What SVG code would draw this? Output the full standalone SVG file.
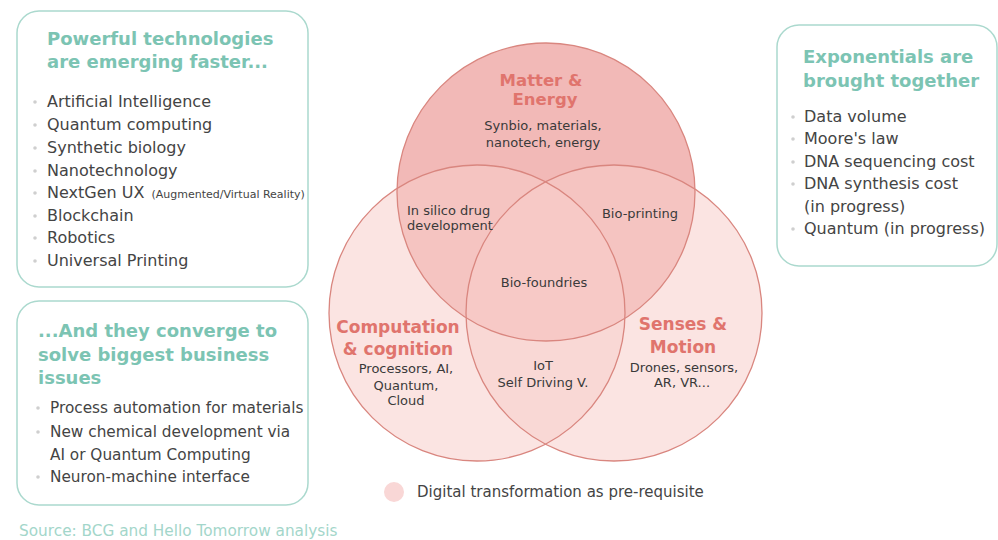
<svg xmlns="http://www.w3.org/2000/svg" width="998" height="540" viewBox="0 0 998 540">
<style>
.box{fill:#ffffff;stroke:#abd9ce;stroke-width:1.5}
.ttl{font-family:"DejaVu Sans",sans-serif;font-weight:bold;font-size:18px;fill:#7cc4b3}
.itm{font-family:"DejaVu Sans",sans-serif;font-size:16px;fill:#444444}
.itm2{font-family:"DejaVu Sans",sans-serif;font-size:15.3px;fill:#444444}
.sml{font-family:"DejaVu Sans",sans-serif;font-size:11px;fill:#444444}
.bul{fill:#cfcfcf}
.vl{font-family:"DejaVu Sans",sans-serif;font-weight:bold;font-size:17px;fill:#e0746d;text-anchor:middle}
.vt{font-family:"DejaVu Sans",sans-serif;font-size:13px;fill:#3a3a3a;text-anchor:middle}
.vs{font-family:"DejaVu Sans",sans-serif;font-size:13px;fill:#3a3a3a}
.ring{fill:none;stroke:#d9867f;stroke-width:1.3}
</style>
<rect width="998" height="540" fill="#ffffff"/>

<g id="box-technologies">
<rect class="box" x="17" y="11" width="291" height="276" rx="22"/>
<text class="ttl" x="47" y="45">Powerful technologies</text>
<text class="ttl" x="47" y="68">are emerging faster...</text>
<circle class="bul" cx="35" cy="102" r="1.8"/><text class="itm" x="47" y="107">Artificial Intelligence</text>
<circle class="bul" cx="35" cy="125" r="1.8"/><text class="itm" x="47" y="130">Quantum computing</text>
<circle class="bul" cx="35" cy="148" r="1.8"/><text class="itm" x="47" y="153">Synthetic biology</text>
<circle class="bul" cx="35" cy="171" r="1.8"/><text class="itm" x="47" y="176">Nanotechnology</text>
<circle class="bul" cx="35" cy="193" r="1.8"/><text class="itm" x="47" y="198">NextGen UX <tspan class="sml" dx="2">(Augmented/Virtual Reality)</tspan></text>
<circle class="bul" cx="35" cy="216" r="1.8"/><text class="itm" x="47" y="221">Blockchain</text>
<circle class="bul" cx="35" cy="238" r="1.8"/><text class="itm" x="47" y="243">Robotics</text>
<circle class="bul" cx="35" cy="261" r="1.8"/><text class="itm" x="47" y="266">Universal Printing</text>
</g>

<g id="box-converge">
<rect class="box" x="17" y="301" width="291" height="204" rx="22"/>
<text class="ttl" x="38" y="337">...And they converge to</text>
<text class="ttl" x="38" y="361">solve biggest business</text>
<text class="ttl" x="38" y="384">issues</text>
<circle class="bul" cx="38" cy="408" r="1.8"/><text class="itm2" x="50" y="413">Process automation for materials</text>
<circle class="bul" cx="38" cy="432" r="1.8"/><text class="itm2" x="50" y="437">New chemical development via</text>
<text class="itm2" x="50" y="460">AI or Quantum Computing</text>
<circle class="bul" cx="38" cy="477" r="1.8"/><text class="itm2" x="50" y="482">Neuron-machine interface</text>
</g>

<g id="box-exponentials">
<rect class="box" x="777" y="25" width="220" height="241" rx="22"/>
<text class="ttl" x="803" y="63">Exponentials are</text>
<text class="ttl" x="803" y="87">brought together</text>
<circle class="bul" cx="793" cy="117" r="1.8"/><text class="itm" x="804" y="122">Data volume</text>
<circle class="bul" cx="793" cy="139" r="1.8"/><text class="itm" x="804" y="144">Moore's law</text>
<circle class="bul" cx="793" cy="162" r="1.8"/><text class="itm" x="804" y="167">DNA sequencing cost</text>
<circle class="bul" cx="793" cy="184" r="1.8"/><text class="itm" x="804" y="189">DNA synthesis cost</text>
<text class="itm" x="804" y="212">(in progress)</text>
<circle class="bul" cx="793" cy="229" r="1.8"/><text class="itm" x="804" y="234">Quantum (in progress)</text>
</g>

<g id="venn">
<circle id="circle-matter" cx="546" cy="192" r="149" fill="#f2b9b7"/>
<circle id="circle-computation" cx="477" cy="313" r="148" fill="#f8cdcb" fill-opacity="0.55"/>
<circle id="circle-senses" cx="614" cy="313" r="148" fill="#f8cdcb" fill-opacity="0.55"/>
<circle class="ring" cx="546" cy="192" r="149"/>
<circle class="ring" cx="477" cy="313" r="148"/>
<circle class="ring" cx="614" cy="313" r="148"/>
</g>

<g id="node-matter">
<text class="vl" x="541" y="86" style="font-size:16.5px">Matter &amp;</text>
<text class="vl" x="545" y="105" style="font-size:16.5px">Energy</text>
<text class="vt" x="543" y="130">Synbio, materials,</text>
<text class="vt" x="543" y="147">nanotech, energy</text>
</g>
<g id="node-insilico">
<text class="vs" x="407" y="215">In silico drug</text>
<text class="vs" x="407" y="230">development</text>
</g>
<g id="node-bioprinting">
<text class="vt" x="640" y="218">Bio-printing</text>
</g>
<g id="node-biofoundries">
<text class="vt" x="544" y="287">Bio-foundries</text>
</g>
<g id="node-computation">
<text class="vl" x="398" y="333">Computation</text>
<text class="vl" x="398" y="355">&amp; cognition</text>
<text class="vt" x="406" y="373">Processors, AI,</text>
<text class="vt" x="406" y="390">Quantum,</text>
<text class="vt" x="406" y="405">Cloud</text>
</g>
<g id="node-iot">
<text class="vt" x="543" y="370">IoT</text>
<text class="vt" x="543" y="387">Self Driving V.</text>
</g>
<g id="node-senses">
<text class="vl" x="683" y="330">Senses &amp;</text>
<text class="vl" x="683" y="353">Motion</text>
<text class="vt" x="684" y="372">Drones, sensors,</text>
<text class="vt" x="682" y="387">AR, VR...</text>
</g>

<g id="legend">
<circle cx="394" cy="492" r="10" fill="#f9d7d6"/>
<text class="itm" x="417" y="497" style="font-size:15px">Digital transformation as pre-requisite</text>
</g>

<text x="19" y="536" style="font-family:'DejaVu Sans',sans-serif;font-size:15.3px;fill:#a3d6ca">Source: BCG and Hello Tomorrow analysis</text>
</svg>
